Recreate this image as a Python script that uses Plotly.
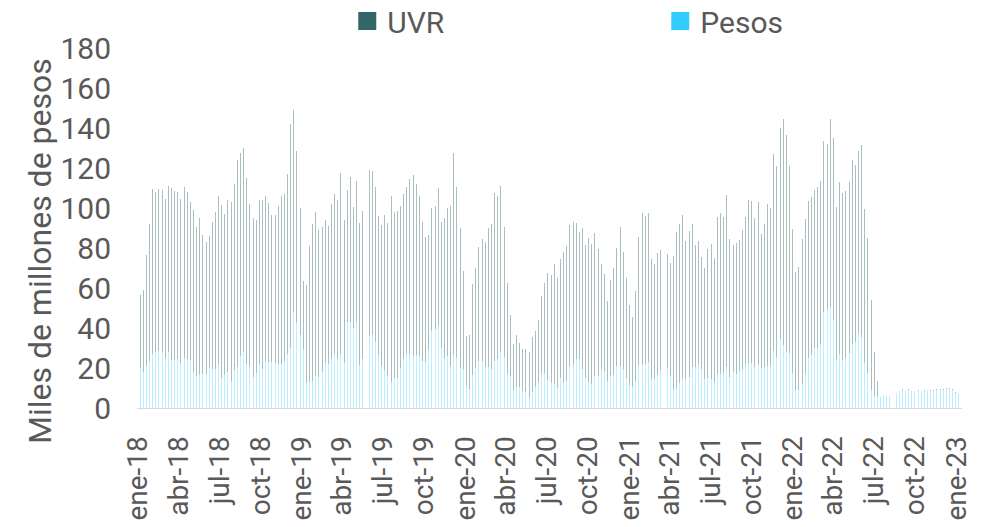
import pandas as pd
import plotly.graph_objects as go

# Weekly placements, ene-18 .. ene-23 (miles de millones)
first_week = "2018-01-05"

pesos = [
    20, 18, 21, 23.5, 27, 28, 28.5, 28, 25, 28,
    24, 24, 24.5, 22.5, 25, 24.5, 24, 18, 16, 16.5,
    17, 17, 20, 19.5, 19.5, 22, 15, 16.5, 18, 13.5,
    19, 20.5, 26, 28, 22, 21, 15.5, 17.5, 22, 19.5,
    23.5, 23, 23, 22.5, 22, 22, 23.5, 27, 30, 48,
    42.5, 36.5, 29.5, 12.5, 13, 13.5, 16, 15.5, 18, 22.5,
    22, 24.5, 27, 24.5, 27, 22.5, 43, 43, 40, 43,
    21.5, 24.5, 29.5, 36, 36.5, 33, 26.5, 21, 19, 16,
    13, 15, 15, 20, 24.5, 27, 27, 26, 26.5, 26,
    23.5, 23, 29, 38.5, 39.5, 41.5, 30, 25, 26, 21,
    26.5, 25, 20, 19.5, 11.5, 9.5, 16.5, 20, 23.5, 23.5,
    20.5, 20.5, 19.5, 23.5, 24.5, 28, 25.5, 17, 16, 9,
    10.5, 10.5, 8.5, 8, 5.5, 8, 10.5, 13, 17.5, 17.5,
    14, 12.5, 12, 10, 15, 13, 13.5, 21, 21.5, 24.5,
    24.5, 19.5, 15, 13, 12, 16, 16, 19.5, 18.5, 13.5,
    16, 16.5, 21, 21, 19.5, 15, 11.5, 10.5, 13.5, 21.5,
    21.5, 22, 23, 14.5, 15, 16.5, 19, 22, 20, 16,
    9, 9.5, 12.5, 15, 14.5, 15.5, 20.5, 20.5, 22, 19.5,
    14.5, 15, 14.5, 13, 17, 17, 17.5, 20.5, 15.5, 18,
    17, 18.5, 19.5, 22, 22.5, 22.5, 20.5, 22, 20, 20.5,
    21, 21.5, 28.5, 25.5, 34.5, 31.5, 28, 27.5, 17.5, 9,
    9, 12, 17.5, 25, 26.5, 30, 30, 32, 48, 49.5,
    50.5, 44, 24, 27, 24, 25, 27.5, 32, 33, 37.5,
    35.5, 22.5, 17.5, 9, 6, 5.5, 5.3, 6.3, 6, 6,
    6.8, 7.3, 8.3, 9, 8.8, 9, 8.3, 8.3, 8.7, 8.3,
    8.7, 8.3, 8.7, 8.7, 9.2, 9.2, 9.2, 9.7, 9.7, 9.2,
    7.7, 7,
]

uvr = [
    36.5, 41, 55.5, 68.5, 82.5, 80, 81, 81, 79.5, 83,
    86, 84.5, 83.5, 82, 85.5, 83.5, 79, 81, 74.5, 78.5,
    69.5, 66, 66, 73.5, 78.5, 84, 86.5, 80.5, 86, 89.5,
    93, 103.5, 101.5, 102, 93, 81, 79.5, 76.5, 82, 84.5,
    82.5, 79.5, 73.5, 74, 79, 84, 83.5, 90, 112, 101,
    86, 63.5, 34, 49, 68, 78.5, 82, 73.5, 72.5, 71.5,
    69, 77.5, 80, 79.5, 90.5, 71.5, 66, 72.5, 60.5, 70.5,
    71, 74, 81, 83, 82, 77.5, 69.5, 70.5, 77.5, 76.5,
    93, 83, 83.5, 81, 82.5, 83.5, 87.5, 90.5, 85.5, 80,
    69.5, 62.5, 57.5, 61.5, 61.5, 68.5, 63, 70, 74, 80,
    101, 85.5, 70, 49, 24.5, 27, 45.5, 50, 57, 61,
    62.5, 69.5, 72.5, 84, 81.5, 83, 65, 45.5, 30.5, 23,
    26, 22, 21, 21.5, 22.5, 27.5, 28, 31, 38.5, 45,
    53.5, 54, 60, 55, 59.5, 65, 67.5, 70.5, 71.5, 68,
    63.5, 70.5, 66.5, 72, 70, 71.5, 63.5, 52.5, 48.5, 40,
    48, 53.5, 59, 69.5, 58.5, 50, 40, 35, 45, 64,
    76, 74, 74.5, 60, 57, 61, 60, 58, 57, 56.5,
    67, 78.5, 79.5, 81.5, 69, 73, 71.5, 61, 61.5, 56,
    55.5, 64.5, 67.5, 62, 78.5, 80.5, 78, 86, 69, 63.5,
    65.5, 65.5, 69.5, 73.5, 81.5, 81, 74.5, 81, 67, 71.5,
    81, 78.5, 98.5, 95.5, 105.5, 113, 108.5, 93.5, 72, 59,
    61.5, 72.5, 77, 78.5, 79, 79, 80.5, 81.5, 85.5, 82.5,
    94, 91, 76.5, 86, 83.5, 83.5, 85.5, 92, 88.5, 91,
    96, 77, 67.5, 45, 22, 8, 0.2, 0.2, 0, 0,
    0.2, 0.2, 0.2, 0.5, 0.2, 0.5, 0.2, 0.2, 0.3, 0.2,
    0.3, 0.2, 0.3, 0.3, 0.3, 0.3, 0.3, 0.3, 0.3, 0.3,
    0.3, 0,
]

tick_dates = pd.date_range("2018-01-01", "2023-01-01", freq="QS").strftime("%Y-%m-%d").tolist()
tick_labels = [
    "ene-18", "abr-18", "jul-18", "oct-18",
    "ene-19", "abr-19", "jul-19", "oct-19",
    "ene-20", "abr-20", "jul-20", "oct-20",
    "ene-21", "abr-21", "jul-21", "oct-21",
    "ene-22", "abr-22", "jul-22", "oct-22",
    "ene-23",
]

weeks = pd.date_range(first_week, periods=len(pesos), freq="7D")

UVR_COLOR = "#336666"
PESOS_COLOR = "#33CCFF"
TEXT = "#595959"
bar_w = 2.2 * 24 * 3600 * 1000  # ~1px wide bars, as in the source

fig = go.Figure()

# stacked bars: pesos at the bottom, UVR on top
fig.add_trace(go.Bar(x=weeks, y=pesos, width=bar_w, showlegend=False,
                     marker=dict(color=PESOS_COLOR, opacity=0.33, line=dict(width=0))))
fig.add_trace(go.Bar(x=weeks, y=uvr, width=bar_w, showlegend=False,
                     marker=dict(color=UVR_COLOR, opacity=0.42, line=dict(width=0))))

# legend entries with full colours (legend caps marker size at 16, the outline adds a bit)
for name, col in [("UVR", UVR_COLOR), ("Pesos", PESOS_COLOR)]:
    fig.add_trace(go.Scatter(x=[None], y=[None], mode="markers", name=name,
                             marker=dict(symbol="square", size=16, color=col,
                                         line=dict(width=2, color=col))))

# the page body adds an 8px margin, so the figure is 8px smaller than the window
fig.update_layout(
    width=992, height=519,
    barmode="stack", bargap=0,
    paper_bgcolor="white", plot_bgcolor="white",
    font=dict(family="Roboto", color=TEXT, size=30),
    margin=dict(l=129, r=38, t=40, b=119, autoexpand=False),
    legend=dict(orientation="h", traceorder="normal",
                xref="container", x=0.342, y=1.075, xanchor="left", yanchor="middle",
                entrywidth=268, entrywidthmode="pixels", itemsizing="trace",
                font=dict(size=30, color=TEXT), bgcolor="rgba(0,0,0,0)"),
    xaxis=dict(type="date", range=["2017-12-29", "2023-01-13"],
               tickmode="array", tickvals=tick_dates, ticktext=tick_labels,
               tickangle=-90, ticklabelstandoff=16,
               showgrid=False, zeroline=False,
               showline=True, linecolor="#D9D9D9", linewidth=1,
               tickfont=dict(size=28, color=TEXT)),
    yaxis=dict(range=[0, 180], dtick=20, showgrid=False, zeroline=False,
               ticklabelstandoff=25, tickfont=dict(size=30, color=TEXT)),
    annotations=[dict(text="Miles de millones de pesos", textangle=-90,
                      xref="paper", yref="paper", x=0, y=0.436,
                      xanchor="center", yanchor="middle", xshift=-97,
                      showarrow=False, font=dict(size=32, color=TEXT))],
)

fig.write_html("out.html", config={"staticPlot": True})
